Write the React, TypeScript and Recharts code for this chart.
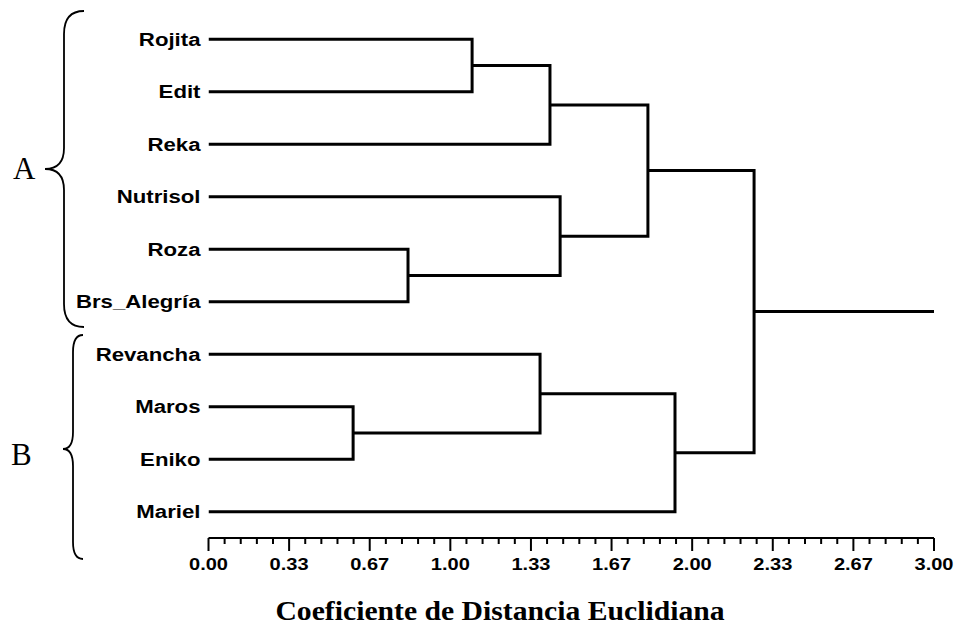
import React from 'react';
import { ComposedChart, Line, XAxis, YAxis } from 'recharts';

// Leaves (top to bottom)
const leafNames = ['Rojita', 'Edit', 'Reka', 'Nutrisol', 'Roza', 'Brs_Alegría', 'Revancha', 'Maros', 'Eniko', 'Mariel'];
// Merge steps: leaves are 0..9, merge k creates node 10+k
const mergeLeft = [7, 4, 0, 6, 12, 3, 14, 13, 16];
const mergeRight = [8, 5, 1, 10, 2, 11, 15, 9, 17];
const mergeHeight = [0.598, 0.825, 1.09, 1.371, 1.412, 1.454, 1.817, 1.929, 2.256];
const rootTailEnd = 3.0;
// Axis
const majorTickLabels = ['0.00', '0.33', '0.67', '1.00', '1.33', '1.67', '2.00', '2.33', '2.67', '3.00'];
const minorPerMajor = 5;
const axisTitle = 'Coeficiente de Distancia Euclidiana';
const groupLabels = ['A', 'B'];

const W = 958;
const H = 626;

// Build link polylines from the merge table
const nodeY: number[] = leafNames.map((_, i) => i + 1);
const nodeH: number[] = leafNames.map(() => 0);
const links: { x: number; y: number }[][] = mergeLeft.map((l, k) => {
  const r = mergeRight[k];
  const h = mergeHeight[k];
  const pts = [
    { x: nodeH[l], y: nodeY[l] },
    { x: h, y: nodeY[l] },
    { x: h, y: nodeY[r] },
    { x: nodeH[r], y: nodeY[r] },
  ];
  nodeY.push((nodeY[l] + nodeY[r]) / 2);
  nodeH.push(h);
  return pts;
});
const rootY = nodeY[nodeY.length - 1];
const rootH = nodeH[nodeH.length - 1];
links.push([
  { x: rootH, y: rootY },
  { x: rootTailEnd, y: rootY },
]);

const xTicks: number[] = [];
for (let i = 0; i <= (majorTickLabels.length - 1) * minorPerMajor; i++) {
  xTicks.push((i / ((majorTickLabels.length - 1) * minorPerMajor)) * rootTailEnd);
}
const yTicks = leafNames.map((_, i) => i + 1);

const sansFont = "Arial, 'Liberation Sans', sans-serif";
const serifFont = "'Times New Roman', 'Liberation Serif', serif";

const XTick = (props: any) => {
  const { x, y, index } = props;
  const major = index % minorPerMajor === 0;
  const label = major ? majorTickLabels[index / minorPerMajor] : null;
  return (
    <g>
      <line x1={x} x2={x} y1={y} y2={y + (major ? 13 : 6)} stroke="#000" strokeWidth={2} />
      {label !== null && (
        <text
          transform={`translate(${x},${y + 32}) scale(1.18,1)`}
          textAnchor="middle"
          fontFamily={sansFont}
          fontWeight="bold"
          fontSize={17}
          fill="#000"
        >
          {label}
        </text>
      )}
    </g>
  );
};

const YTick = (props: any) => {
  const { x, y, payload } = props;
  const name = leafNames[Math.round(payload.value) - 1];
  return (
    <text
      transform={`translate(${x - 8},${y + 6.7}) scale(1.2,1)`}
      textAnchor="end"
      fontFamily={sansFont}
      fontWeight="bold"
      fontSize={18.5}
      fill="#000"
    >
      {name}
    </text>
  );
};

export default function App() {
  return (
    <div style={{ position: 'absolute', left: 0, top: 0, width: W, height: H, background: '#fff' }}>
      <ComposedChart width={W} height={H} margin={{ top: 13, right: 24, bottom: 48, left: 8.5 }}>
        <XAxis
          type="number"
          dataKey="x"
          domain={[0, rootTailEnd]}
          ticks={xTicks}
          interval={0}
          tickLine={false}
          tickSize={0}
          tickMargin={0}
          tick={<XTick />}
          axisLine={{ stroke: '#000', strokeWidth: 2 }}
          height={40}
          allowDataOverflow
        />
        <YAxis
          type="number"
          dataKey="y"
          domain={[0.5, leafNames.length + 0.5]}
          ticks={yTicks}
          interval={0}
          reversed
          axisLine={false}
          tickLine={false}
          tickSize={0}
          tickMargin={0}
          tick={<YTick />}
          width={200}
          allowDataOverflow
        />
        {links.map((pts, i) => (
          <Line
            key={`link-${i}`}
            name={`link-${i}`}
            data={pts}
            dataKey="y"
            type="linear"
            stroke="#000"
            strokeWidth={3}
            strokeLinejoin="miter"
            strokeLinecap="butt"
            dot={false}
            activeDot={false}
            isAnimationActive={false}
          />
        ))}
      </ComposedChart>
      <svg
        width={W}
        height={H}
        style={{ position: 'absolute', left: 0, top: 0, pointerEvents: 'none' }}
      >
        <path
          d="M 84 11 Q 64 11 64 34 L 64 148 Q 64 169 45 169 Q 64 169 64 190 L 64 304 Q 64 327 84 327"
          fill="none"
          stroke="#000"
          strokeWidth={1.8}
        />
        <path
          d="M 83 335 Q 73 335 73 352 L 73 432 Q 73 449 63 449 Q 73 449 73 466 L 73 542 Q 73 559 83 559"
          fill="none"
          stroke="#000"
          strokeWidth={1.8}
        />
        <text x={13} y={179} fontFamily={serifFont} fontSize={31} fill="#000">
          {groupLabels[0]}
        </text>
        <text x={11} y={465} fontFamily={serifFont} fontSize={31} fill="#000">
          {groupLabels[1]}
        </text>
        <text
          transform="translate(500,620) scale(1.06,1)"
          textAnchor="middle"
          fontFamily={serifFont}
          fontWeight="bold"
          fontSize={28}
          fill="#000"
        >
          {axisTitle}
        </text>
      </svg>
    </div>
  );
}
